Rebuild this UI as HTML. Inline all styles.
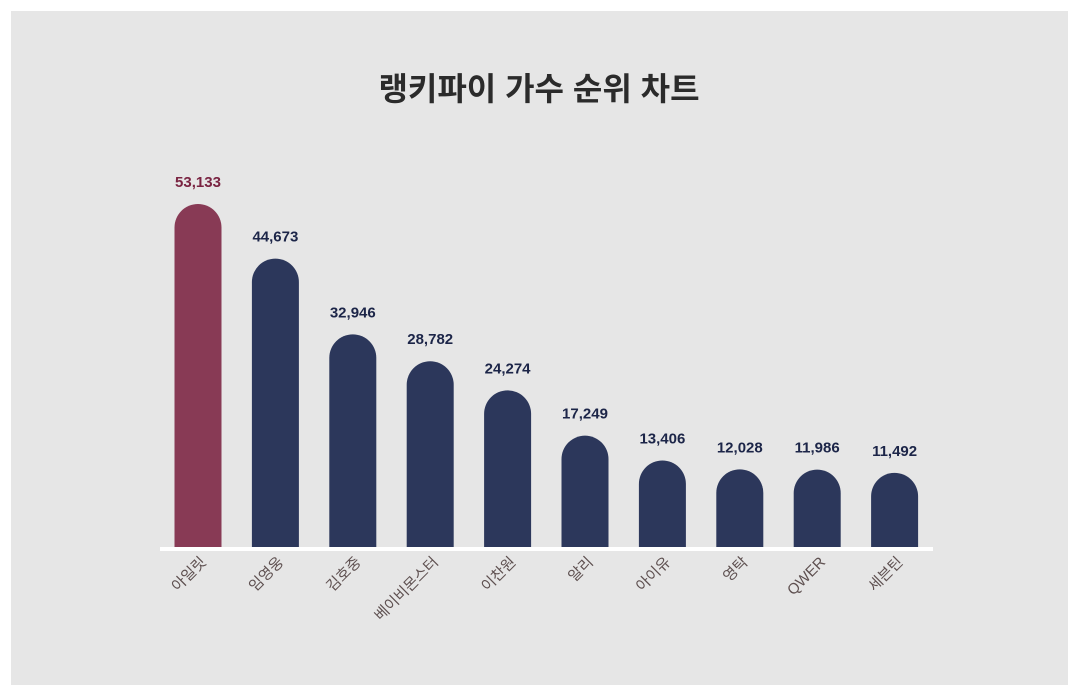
<!DOCTYPE html>
<html><head><meta charset="utf-8"><style>
body{margin:0;background:#fff;width:1079px;height:696px;overflow:hidden}
svg{display:block;font-family:"Liberation Sans","Noto Sans CJK KR",sans-serif}
</style></head><body>
<svg id="chart" width="1079" height="696">
<rect x="11" y="11" width="1057" height="674" fill="#e6e6e6"/>
<text x="539" y="100" text-anchor="middle" font-size="32" font-weight="bold" fill="#2b2b2b">랭키파이 가수 순위 차트</text>
<g id="bars"></g>
<rect x="160" y="547" width="773" height="4" fill="#fff"/>
</svg>
<script>
const categories=["아일릿","임영웅","김호중","베이비몬스터","이찬원","알리","아이유","영탁","QWER","세븐틴"];
const values=[53133,44673,32946,28782,24274,17249,13406,12028,11986,11492];
const labels=["53,133","44,673","32,946","28,782","24,274","17,249","13,406","12,028","11,986","11,492"];
const ns="http://www.w3.org/2000/svg";
const g=document.getElementById('bars');
const base=547, topY=204, maxV=53133;
function y(v){return base-(base-topY)*v/maxV;}
function cx(i){return 198+i*77.4;}
const bw=47;
values.forEach((v,i)=>{
  const c=cx(i), t=y(v), r=bw/2;
  const col=i===0?'#883a55':'#2c375b';
  const p=document.createElementNS(ns,'path');
  p.setAttribute('d',`M${c-r},${base}L${c-r},${t+r}A${r},${r} 0 0 1 ${c+r},${t+r}L${c+r},${base}Z`);
  p.setAttribute('fill',col);
  
  
  g.appendChild(p);
  const vt=document.createElementNS(ns,'text');
  vt.setAttribute('x',c);vt.setAttribute('y',t-17);
  vt.setAttribute('text-anchor','middle');vt.setAttribute('font-size','15');vt.setAttribute('font-weight','bold');
  vt.setAttribute('fill',i===0?'#7a2442':'#1c2548');
  vt.textContent=labels[i];
  
  
  g.appendChild(vt);
  const lt=document.createElementNS(ns,'text');
  lt.setAttribute('transform',`translate(${c+9},${563}) rotate(-45)`);
  lt.setAttribute('text-anchor','end');lt.setAttribute('font-size','15');lt.setAttribute('fill','#5e5050');
  lt.textContent=categories[i];
  
  
  g.appendChild(lt);
});
</script>
</body></html>
